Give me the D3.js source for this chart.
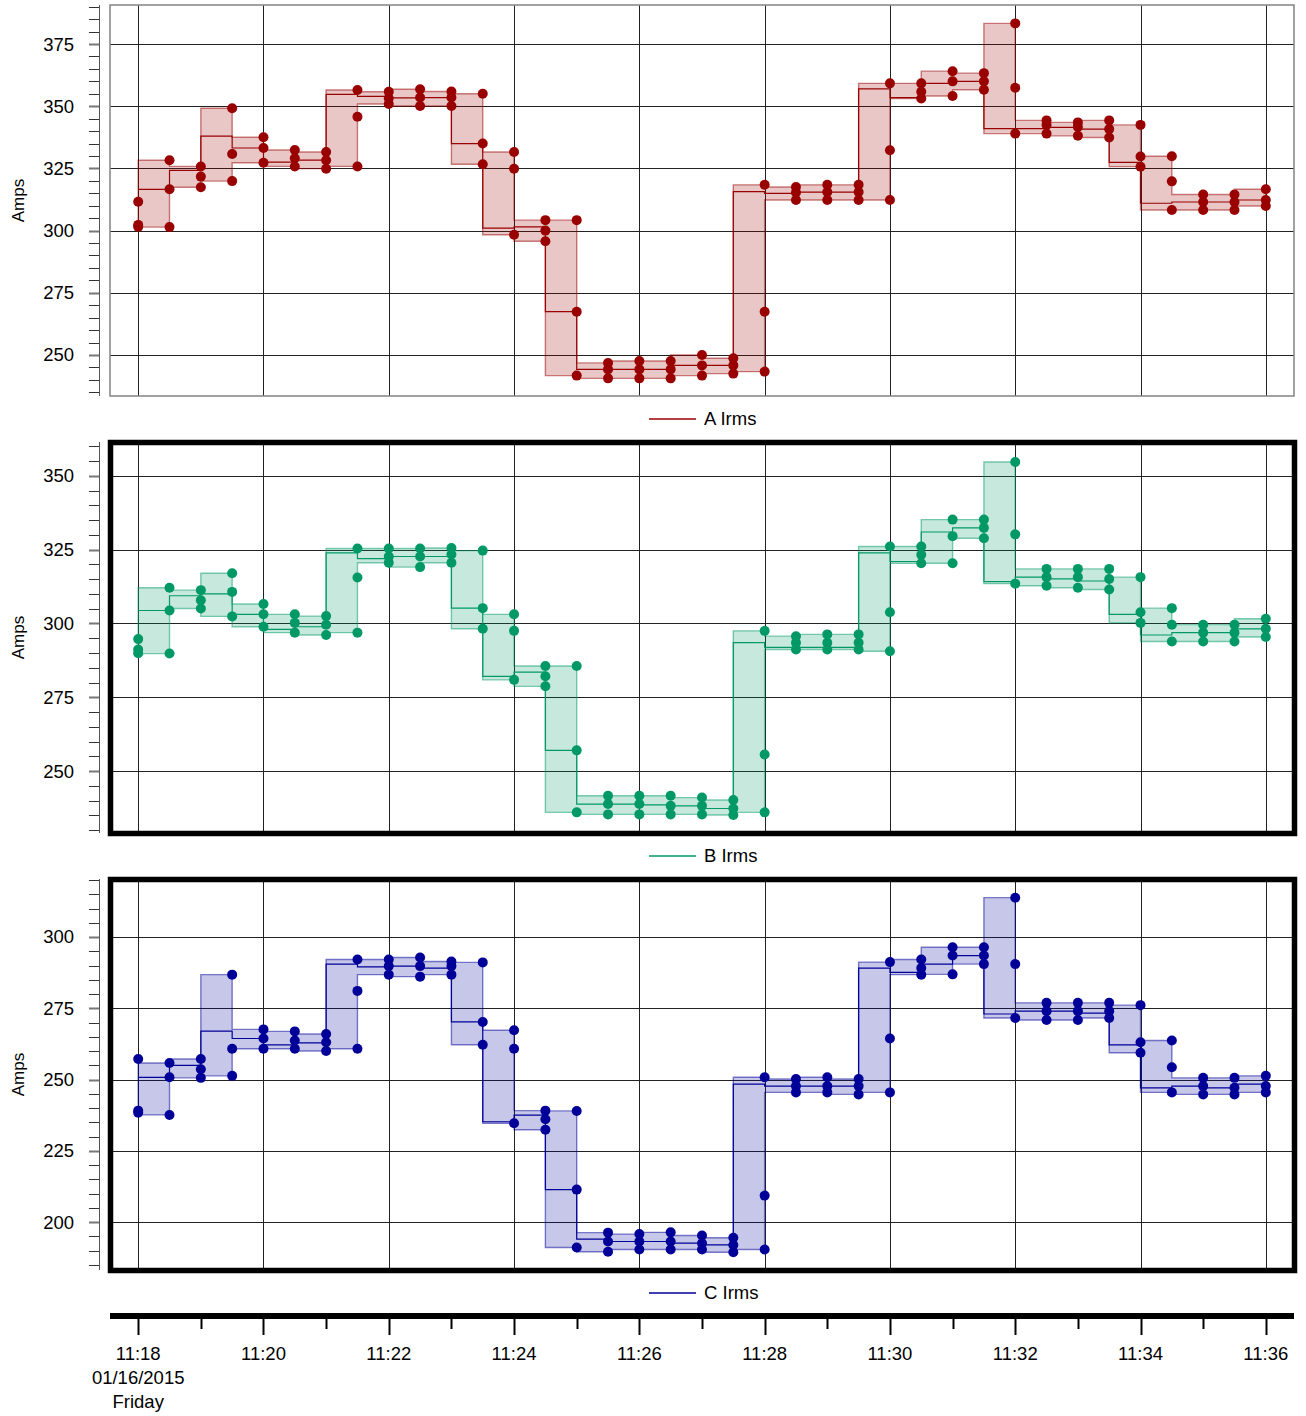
<!DOCTYPE html>
<html>
<head>
<meta charset="utf-8">
<script src="https://cdn.jsdelivr.net/npm/d3@7"></script>
<style>
  body { margin: 0; background: #fff; }
  svg text { font-family: "Liberation Sans", Arial, sans-serif; fill: #000; }
</style>
</head>
<body>
<div id="chart"></div>
<script>
// --- DATA ---
const day = "2015-01-16";
const times = ["11:18:00", "11:18:30", "11:19:00", "11:19:30", "11:20:00", "11:20:30", "11:21:00", "11:21:30",
    "11:22:00", "11:22:30", "11:23:00", "11:23:30", "11:24:00", "11:24:30", "11:25:00", "11:25:30",
    "11:26:00", "11:26:30", "11:27:00", "11:27:30", "11:28:00", "11:28:30", "11:29:00", "11:29:30",
    "11:30:00", "11:30:30", "11:31:00", "11:31:30", "11:32:00", "11:32:30", "11:33:00", "11:33:30",
    "11:34:00", "11:34:30", "11:35:00", "11:35:30", "11:36:00"];
const xDomain = ["11:17:33", "11:36:27"];

// A Irms: per-sample low / middle / high readings, and the interval mean (one per 30s step)
const aMin = [301.5, 301.4, 317.4, 319.9, 327.3, 325.8, 324.9, 325.8, 350.9, 350.1, 350.1, 326.7, 298.3, 295.7, 241.7, 240.6, 240.6, 240.6, 241.7, 242.5, 243.3, 312.3, 312.3, 312.3, 312.3, 353.1, 354.1, 356.6, 339.0, 339.0, 338.1, 337.4, 325.7, 308.3, 308.3, 308.3, 309.9];
const aMid = [302.3, 316.6, 321.7, 330.8, 333.2, 329.1, 328.3, 345.8, 353.2, 353.5, 353.5, 335.0, 324.9, 300.0, 267.4, 244.2, 244.2, 244.2, 245.8, 245.8, 267.4, 315.3, 315.5, 315.5, 332.3, 355.8, 360.0, 360.0, 357.4, 342.5, 341.7, 340.8, 329.8, 319.8, 311.5, 311.5, 312.3];
const aMax = [311.6, 328.3, 325.8, 349.2, 337.5, 332.4, 331.6, 356.5, 355.8, 356.8, 355.9, 355.0, 331.6, 304.2, 304.2, 246.8, 247.6, 247.6, 250.0, 248.7, 318.4, 317.5, 318.4, 318.4, 359.2, 359.2, 364.1, 363.3, 383.3, 344.3, 343.5, 344.3, 342.5, 329.9, 314.5, 314.5, 316.6];
const aMean = [316.6, 324.2, 338.0, 333.2, 327.5, 328.3, 354.8, 354.0, 353.4, 353.5, 335.0, 301.0, 301.5, 267.4, 244.2, 244.2, 244.2, 245.8, 245.8, 315.7, 315.0, 315.5, 315.5, 357.0, 353.5, 359.2, 360.0, 341.0, 341.0, 341.5, 340.8, 327.4, 311.0, 311.5, 311.5, 312.3];
const aDomain = [233.5, 390.7];

// B Irms
const bMin = [289.9, 289.8, 305.1, 302.4, 298.9, 296.9, 296.1, 296.9, 320.6, 319.1, 320.6, 298.2, 280.9, 278.7, 236.0, 235.3, 235.3, 235.3, 235.3, 235.1, 236.0, 291.2, 291.2, 291.2, 290.6, 320.4, 320.4, 328.9, 313.5, 312.8, 312.1, 311.5, 300.2, 293.9, 293.9, 293.9, 295.4];
const bMid = [291.2, 304.4, 307.9, 310.7, 303.1, 300.2, 299.6, 315.6, 322.7, 322.7, 323.4, 305.2, 297.5, 282.1, 257.0, 238.8, 238.8, 238.2, 238.2, 237.3, 255.6, 293.5, 293.5, 293.5, 303.8, 323.3, 329.6, 332.4, 330.2, 315.7, 315.7, 315.1, 303.8, 299.6, 296.9, 296.9, 298.2];
const bMax = [294.7, 312.1, 311.3, 317.0, 306.6, 303.1, 302.5, 325.4, 325.4, 325.4, 325.6, 324.7, 303.1, 285.6, 285.6, 241.6, 241.6, 241.6, 241.0, 240.2, 297.5, 295.7, 296.3, 296.3, 326.1, 326.1, 335.2, 335.2, 354.7, 318.5, 318.5, 318.5, 315.7, 305.2, 299.6, 299.6, 301.6];
const bMean = [304.4, 309.4, 310.0, 303.1, 298.0, 298.9, 323.9, 322.0, 322.7, 322.7, 305.2, 282.1, 283.5, 257.0, 238.8, 238.8, 238.5, 238.2, 237.3, 293.5, 291.9, 291.9, 291.9, 323.9, 321.0, 331.0, 332.4, 314.2, 315.7, 315.1, 314.4, 303.1, 296.1, 296.9, 296.9, 298.2];
const bDomain = [229.0, 361.5];

// C Irms
const cMin = [238.4, 237.6, 250.6, 251.3, 260.8, 260.8, 260.0, 260.8, 286.8, 286.1, 286.8, 262.2, 234.7, 232.4, 191.1, 189.6, 190.4, 190.4, 190.4, 189.4, 190.4, 245.5, 245.5, 244.8, 245.5, 286.8, 286.9, 290.5, 271.6, 270.9, 270.9, 271.6, 259.4, 245.5, 244.8, 244.8, 245.5];
const cMid = [239.1, 250.8, 253.6, 260.8, 264.4, 263.7, 263.1, 281.1, 289.8, 289.8, 289.8, 270.2, 260.8, 236.1, 211.4, 193.2, 193.2, 193.2, 192.6, 192.0, 209.3, 247.7, 247.7, 247.7, 264.4, 289.1, 293.5, 293.5, 290.5, 274.0, 274.0, 274.0, 263.1, 254.3, 247.7, 247.1, 247.7];
const cMax = [257.2, 255.8, 257.2, 286.8, 267.6, 266.9, 266.0, 292.1, 292.1, 292.8, 291.4, 291.1, 267.3, 239.1, 239.0, 196.3, 195.8, 196.4, 195.3, 194.5, 250.8, 250.2, 250.8, 250.2, 291.2, 292.1, 296.4, 296.4, 313.8, 276.9, 276.9, 276.9, 276.1, 263.7, 250.6, 250.6, 251.3];
const cMean = [250.8, 255.0, 267.0, 264.4, 262.2, 262.9, 290.5, 289.5, 289.8, 289.1, 270.2, 235.2, 237.5, 211.4, 194.0, 193.2, 193.2, 192.6, 192.0, 248.4, 247.7, 247.7, 247.7, 289.1, 287.6, 290.5, 293.5, 273.0, 274.0, 274.0, 273.3, 262.2, 247.1, 247.7, 247.1, 248.4];
const cDomain = [183.2, 320.35];

const panels = [
    { label: "A Irms", color: "#990000", min: aMin, mid: aMid, max: aMax, mean: aMean, domain: aDomain, heavy: false },
    { label: "B Irms", color: "#009966", min: bMin, mid: bMid, max: bMax, mean: bMean, domain: bDomain, heavy: true },
    { label: "C Irms", color: "#000099", min: cMin, mid: cMid, max: cMax, mean: cMean, domain: cDomain, heavy: true }
];

// --- LAYOUT ---
const width = 1306;
const height = 1416;
const plotLeft = 110, plotRight = 1294;
const firstTop = 5, panelH = 391, panelStep = 437;
const axisX = 99;

const parse = d3.timeParse("%Y-%m-%d %H:%M:%S");
const T = times.map(t => parse(day + " " + t));

const x = d3.scaleTime()
    .domain(xDomain.map(t => parse(day + " " + t)))
    .range([plotLeft, plotRight]);

const gridTimes = d3.timeMinute.every(2).range(x.domain()[0], x.domain()[1]);
const minorTimes = d3.timeMinute.every(1).range(x.domain()[0], x.domain()[1]);

const svg = d3.select("#chart")
    .append("svg")
    .attr("width", width)
    .attr("height", height);

panels.forEach((p, i) => {
    const top = firstTop + i * panelStep;
    const bottom = top + panelH;
    const y = d3.scaleLinear().domain(p.domain).range([bottom, top]);
    const g = svg.append("g");

    // grid
    const majorY = d3.range(Math.ceil(p.domain[0] / 25) * 25, p.domain[1], 25);
    const minorY = d3.range(Math.ceil(p.domain[0] / 5) * 5, p.domain[1], 5);

    g.append("g")
        .selectAll("line")
        .data(majorY)
        .join("line")
        .attr("x1", plotLeft).attr("x2", plotRight)
        .attr("y1", d => Math.round(y(d)) + 0.5)
        .attr("y2", d => Math.round(y(d)) + 0.5)
        .attr("stroke", "#222")
        .attr("stroke-width", 1);

    g.append("g")
        .selectAll("line")
        .data(gridTimes)
        .join("line")
        .attr("x1", d => Math.round(x(d)) + 0.5)
        .attr("x2", d => Math.round(x(d)) + 0.5)
        .attr("y1", top).attr("y2", bottom)
        .attr("stroke", "#222")
        .attr("stroke-width", 1);

    // min / max band
    const area = d3.area()
        .curve(d3.curveStepBefore)
        .x(d => x(d.t))
        .y0(d => y(d.lo))
        .y1(d => y(d.hi));
    const bandData = T.map((t, k) => ({ t: t, lo: p.min[Math.max(1, k)], hi: p.max[Math.max(1, k)] }));
    g.append("path")
        .datum(bandData)
        .attr("d", area)
        .attr("fill", p.color)
        .attr("fill-opacity", 0.22)
        .attr("stroke", p.color)
        .attr("stroke-opacity", 0.5)
        .attr("stroke-width", 1.4);

    // interval mean
    const line = d3.line()
        .curve(d3.curveStepBefore)
        .x(d => x(d.t))
        .y(d => y(d.v));
    const meanData = T.map((t, k) => ({ t: t, v: p.mean[Math.max(0, k - 1)] }));
    g.append("path")
        .datum(meanData)
        .attr("d", line)
        .attr("fill", "none")
        .attr("stroke", p.color)
        .attr("stroke-width", 1.2);

    // sample dots
    const dots = [];
    T.forEach((t, k) => {
        dots.push({ t: t, v: p.min[k] }, { t: t, v: p.mid[k] }, { t: t, v: p.max[k] });
    });
    g.append("g")
        .selectAll("circle")
        .data(dots)
        .join("circle")
        .attr("cx", d => x(d.t))
        .attr("cy", d => y(d.v))
        .attr("r", 5)
        .attr("fill", p.color);

    // frame
    if (p.heavy) {
        g.append("rect")
            .attr("x", plotLeft + 0.5).attr("y", top + 0.5)
            .attr("width", plotRight - plotLeft).attr("height", panelH)
            .attr("fill", "none")
            .attr("stroke", "#000")
            .attr("stroke-width", 5.5);
    } else {
        g.append("rect")
            .attr("x", plotLeft).attr("y", top)
            .attr("width", plotRight - plotLeft).attr("height", panelH)
            .attr("fill", "none")
            .attr("stroke", "#8a8a8a")
            .attr("stroke-width", 1.6);
    }

    // y axis
    const ax = svg.append("g");
    ax.append("line")
        .attr("x1", axisX + 0.5).attr("x2", axisX + 0.5)
        .attr("y1", top).attr("y2", bottom)
        .attr("stroke", "#555")
        .attr("stroke-width", 1);
    ax.selectAll("line.minor")
        .data(minorY)
        .join("line")
        .attr("class", "minor")
        .attr("x1", axisX - 10).attr("x2", axisX)
        .attr("y1", d => Math.round(y(d)) + 0.5)
        .attr("y2", d => Math.round(y(d)) + 0.5)
        .attr("stroke", d => d % 25 === 0 ? "#777" : "#333")
        .attr("stroke-width", d => d % 25 === 0 ? 2 : 1);
    ax.selectAll("text")
        .data(majorY)
        .join("text")
        .attr("x", 74)
        .attr("y", d => y(d))
        .attr("dy", "0.35em")
        .attr("text-anchor", "end")
        .style("font-size", "18.5px")
        .text(d => d);
    ax.append("text")
        .attr("transform", `translate(24, ${(top + bottom) / 2}) rotate(-90)`)
        .attr("text-anchor", "middle")
        .style("font-size", "17px")
        .text("Amps");

    // legend
    const ly = bottom + 23;
    const legend = svg.append("g");
    legend.append("line")
        .attr("x1", 649).attr("x2", 696)
        .attr("y1", ly).attr("y2", ly)
        .attr("stroke", p.color)
        .attr("stroke-width", 1.4);
    legend.append("text")
        .attr("x", 704)
        .attr("y", ly)
        .attr("dy", "0.35em")
        .style("font-size", "18.5px")
        .text(p.label);
});

// --- TIME AXIS ---
const axisY = 1316;
const tAxis = svg.append("g");
tAxis.append("line")
    .attr("x1", plotLeft).attr("x2", plotRight)
    .attr("y1", axisY).attr("y2", axisY)
    .attr("stroke", "#000")
    .attr("stroke-width", 6);

tAxis.selectAll("line.tick")
    .data(minorTimes)
    .join("line")
    .attr("class", "tick")
    .attr("x1", d => Math.round(x(d)) + 0.5)
    .attr("x2", d => Math.round(x(d)) + 0.5)
    .attr("y1", axisY + 2)
    .attr("y2", d => axisY + (d.getMinutes() % 2 === 0 ? 19 : 13))
    .attr("stroke", "#000")
    .attr("stroke-width", 2);

const fmt = d3.timeFormat("%H:%M");
tAxis.selectAll("text.time")
    .data(gridTimes)
    .join("text")
    .attr("class", "time")
    .attr("x", d => x(d))
    .attr("y", 1360)
    .attr("text-anchor", "middle")
    .style("font-size", "18.5px")
    .text(d => fmt(d));

const dateLines = [d3.timeFormat("%m/%d/%Y")(T[0]), d3.timeFormat("%A")(T[0])];
tAxis.selectAll("text.date")
    .data(dateLines)
    .join("text")
    .attr("class", "date")
    .attr("x", x(T[0]))
    .attr("y", (d, i) => 1384 + i * 24)
    .attr("text-anchor", "middle")
    .style("font-size", "18.5px")
    .text(d => d);
</script>
</body>
</html>
